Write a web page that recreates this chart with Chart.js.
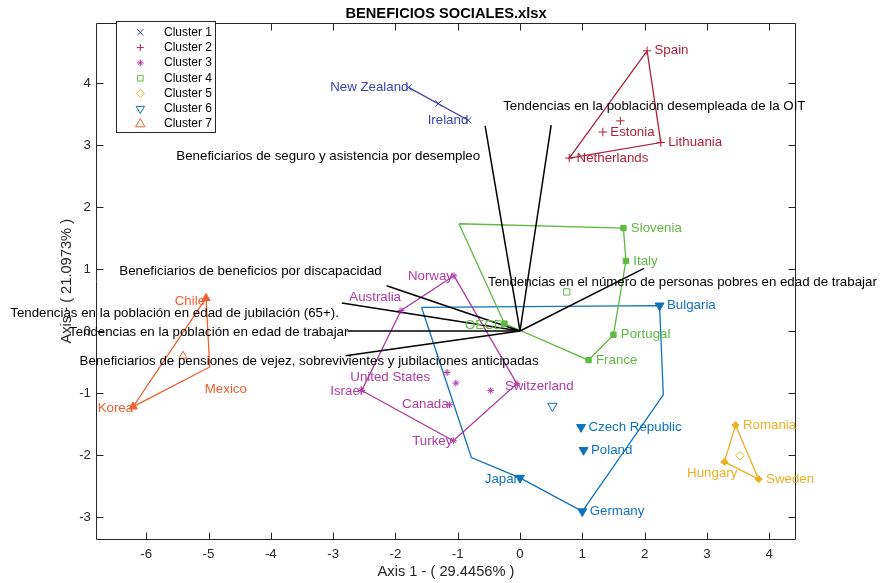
<!DOCTYPE html>
<html>
<head>
<meta charset="utf-8">
<script src="https://cdn.jsdelivr.net/npm/chart.js@4.4.1/dist/chart.umd.min.js"></script>
<style>
  html, body { margin: 0; padding: 0; background: #ffffff; }
  canvas { display: block; }
</style>
</head>
<body>
<canvas id="biplot" width="882" height="583"></canvas>
<script>
// ---------------- data ----------------
const chartTitle = 'BENEFICIOS SOCIALES.xlsx';
const xAxisTitle = 'Axis 1 - ( 29.4456% )';
const yAxisTitle = 'Axis - ( 21.0973% )';

const xTicks = [-6, -5, -4, -3, -2, -1, 0, 1, 2, 3, 4];
const yTicks = [-3, -2, -1, 0, 1, 2, 3, 4];

const clusterNames = ['Cluster 1', 'Cluster 2', 'Cluster 3', 'Cluster 4', 'Cluster 5', 'Cluster 6', 'Cluster 7'];

// cluster members: names ('' = unnamed), coordinates, hull vertex order, cluster mean
const c1Names = ['New Zealand', 'Ireland'];
const c1X = [-1.79, -0.83];
const c1Y = [3.93, 3.40];
const c1Hull = [0, 1];
const c1Mean = [-1.31, 3.67];

const c2Names = ['Spain', 'Lithuania', 'Netherlands', 'Estonia'];
const c2X = [2.04, 2.26, 0.79, 1.33];
const c2Y = [4.52, 3.04, 2.79, 3.21];
const c2Hull = [0, 1, 2];
const c2Mean = [1.61, 3.39];

const c3Names = ['Norway', 'Australia', 'Israel', 'Turkey', 'Switzerland', 'Canada', 'United States', ''];
const c3X = [-1.06, -1.91, -2.54, -1.07, -0.05, -1.13, -1.17, -0.47];
const c3Y = [0.89, 0.33, -0.96, -1.77, -0.85, -1.19, -0.67, -0.96];
const c3Hull = [0, 4, 3, 2, 1];
const c3Mean = [-1.03, -0.84];

const c4Names = ['', 'Slovenia', 'Italy', 'Portugal', 'France', 'OECD'];
const c4X = [-0.98, 1.66, 1.70, 1.50, 1.10, -0.25];
const c4Y = [1.73, 1.66, 1.13, -0.06, -0.47, 0.12];
const c4Hull = [0, 1, 2, 3, 4, 5];
const c4Mean = [0.75, 0.63];

const c5Names = ['Romania', 'Hungary', 'Sweden'];
const c5X = [3.46, 3.28, 3.83];
const c5Y = [-1.52, -2.11, -2.39];
const c5Hull = [0, 1, 2];
const c5Mean = [3.53, -2.01];

const c6Names = ['', 'Bulgaria', '', 'Germany', 'Japan', '', 'Czech Republic', 'Poland'];
const c6X = [-1.58, 2.24, 2.30, 1.00, 0.00, -0.78, 0.98, 1.02];
const c6Y = [0.38, 0.41, -1.03, -2.91, -2.37, -2.04, -1.55, -1.92];
const c6Hull = [0, 1, 2, 3, 4, 5];
const c6Mean = [0.52, -1.21];

const c7Names = ['Chile', 'Mexico', 'Korea'];
const c7X = [-5.04, -4.98, -6.21];
const c7Y = [0.53, -0.58, -1.22];
const c7Hull = [0, 1, 2];
const c7Mean = [-5.41, -0.40];

// variable loadings (arrows from the origin)
const variableNames = [
  'Tendencias en la población desempleada de la OIT',
  'Beneficiarios de seguro y asistencia por desempleo',
  'Beneficiarios de beneficios por discapacidad',
  'Tendencias en la población en edad de jubilación (65+).',
  'Tendencias en la población en edad de trabajar',
  'Beneficiarios de pensiones de vejez, sobrevivientes y jubilaciones anticipadas',
  'Tendencias en el número de personas pobres en edad de trabajar'
];
const loadingX = [0.50, -0.56, -2.14, -2.86, -2.77, -2.80, 1.99];
const loadingY = [3.32, 3.31, 0.73, 0.45, 0.00, -0.40, 1.01];

// ---------------- style ----------------
const FONT = '"Liberation Sans", Arial, Helvetica, sans-serif';
const axisColor = '#262626';
const clusterColors = ['#4141B0', '#B0203C', '#B03AA6', '#5DBB3F', '#EDB120', '#0F72BD', '#F0612F'];
// marker: Chart.js point style, rotation, member radius, mean radius, legend radius
const clusterMarkers = [
  { style: 'crossRot', rot: 0,   r: 4.5, mr: 4.5, lr: 4.3 },
  { style: 'cross',    rot: 0,   r: 4.2, mr: 4.2, lr: 3.5 },
  { style: 'star',     rot: 0,   r: 3.4, mr: 3.4, lr: 3.4 },
  { style: 'rect',     rot: 0,   r: 3.8, mr: 4.4, lr: 4.0 },
  { style: 'rectRot',  rot: 0,   r: 3.6, mr: 4.2, lr: 4.0 },
  { style: 'triangle', rot: 180, r: 5.2, mr: 5.4, lr: 4.8 },
  { style: 'triangle', rot: 0,   r: 4.7, mr: 4.6, lr: 5.4 }
];
const filledMarkers = new Set(['rect', 'rectRot', 'triangle']);
// hull corners drawn without a marker: cluster index -> member indices
const markerless = { 3: [0], 5: [0, 2, 5], 6: [1] };
// member labels: [textAlign, dx, dy] in pixels; unlisted names sit to the right
const memberLabelPlacement = {
  'New Zealand': ['right', 0, 0], 'Ireland': ['right', 0, 0],
  'Norway': ['right', -1, 1], 'Canada': ['right', -1, 0], 'Turkey': ['right', -1, 1],
  'Israel': ['right', 1, 1], 'OECD': ['right', -1, 2], 'Japan': ['right', 1, 1],
  'Korea': ['right', 0, 2], 'Chile': ['right', -1, 3],
  'Australia': ['right', 0, -13], 'United States': ['right', -17, 5],
  'Hungary': ['right', 13, 12], 'Mexico': ['left', -5, 22], 'Switzerland': ['left', -12, 3]
};
const variableLabelPlacement = [
  ['left', -48, -19], ['right', -5, 31], ['right', -5, -14], ['right', -3, 10],
  ['right', 1, 1], ['left', -266, 6], ['left', -156, 14]
];
const tickLen = 7;

// ---------------- build ----------------
const clusters = [
  { names: c1Names, x: c1X, y: c1Y, hull: c1Hull, mean: c1Mean },
  { names: c2Names, x: c2X, y: c2Y, hull: c2Hull, mean: c2Mean },
  { names: c3Names, x: c3X, y: c3Y, hull: c3Hull, mean: c3Mean },
  { names: c4Names, x: c4X, y: c4Y, hull: c4Hull, mean: c4Mean },
  { names: c5Names, x: c5X, y: c5Y, hull: c5Hull, mean: c5Mean },
  { names: c6Names, x: c6X, y: c6Y, hull: c6Hull, mean: c6Mean },
  { names: c7Names, x: c7X, y: c7Y, hull: c7Hull, mean: c7Mean }
];

const datasets = [];
clusters.forEach((c, k) => {
  const color = clusterColors[k];
  const m = clusterMarkers[k];
  const hullPts = c.hull.concat([c.hull[0]]).map(i => ({ x: c.x[i], y: c.y[i] }));
  datasets.push({
    label: clusterNames[k] + ' hull', data: hullPts, showLine: true, tension: 0,
    borderColor: color, borderWidth: 1.3, pointRadius: 0, fill: false, order: 3
  });
  const hidden = new Set(markerless[k] || []);
  datasets.push({
    label: clusterNames[k] + ' members',
    data: c.x.map((v, i) => ({ x: v, y: c.y[i] })),
    showLine: false, pointStyle: m.style, rotation: m.rot,
    pointRadius: ctx => hidden.has(ctx.dataIndex) ? 0 : m.r,
    borderColor: color, backgroundColor: filledMarkers.has(m.style) ? color : 'rgba(0,0,0,0)',
    borderWidth: 1, order: 1
  });
  datasets.push({
    label: clusterNames[k], data: [{ x: c.mean[0], y: c.mean[1] }],
    showLine: false, pointStyle: m.style, rotation: m.rot, pointRadius: m.mr,
    borderColor: color, backgroundColor: 'rgba(0,0,0,0)', borderWidth: 1, order: 1
  });
});
variableNames.forEach((name, i) => {
  datasets.push({
    label: name, data: [{ x: 0, y: 0 }, { x: loadingX[i], y: loadingY[i] }],
    showLine: true, tension: 0, borderColor: '#000000', borderWidth: 1.5,
    pointRadius: 0, fill: false, order: 2
  });
});

// frame with inward ticks, text labels and the boxed legend
const overlayPlugin = {
  id: 'biplotOverlay',
  afterDatasetsDraw(chart) {
    const { ctx, chartArea: a, scales } = chart;
    const xs = scales.x, ys = scales.y;
    const L = Math.floor(a.left) + 0.5, R = Math.floor(a.right) - 0.5;
    const T = Math.floor(a.top) + 0.5, B = Math.floor(a.bottom) + 0.5;
    ctx.save();
    ctx.strokeStyle = axisColor;
    ctx.lineWidth = 1;
    ctx.beginPath();
    ctx.rect(L, T, R - L, B - T);
    xTicks.forEach(v => {
      const p = Math.round(xs.getPixelForValue(v)) + 0.5;
      ctx.moveTo(p, B); ctx.lineTo(p, B - tickLen);
      ctx.moveTo(p, T); ctx.lineTo(p, T + tickLen);
    });
    yTicks.forEach(v => {
      const p = Math.round(ys.getPixelForValue(v)) + 0.5;
      ctx.moveTo(L, p); ctx.lineTo(L + tickLen, p);
      ctx.moveTo(R, p); ctx.lineTo(R - tickLen, p);
    });
    ctx.stroke();

    // member names
    ctx.font = '13.3px ' + FONT;
    ctx.textBaseline = 'middle';
    clusters.forEach((c, k) => {
      ctx.fillStyle = clusterColors[k];
      c.names.forEach((name, i) => {
        if (!name) return;
        const px = xs.getPixelForValue(c.x[i]);
        const py = ys.getPixelForValue(c.y[i]);
        const place = memberLabelPlacement[name];
        if (place) {
          ctx.textAlign = place[0];
          ctx.fillText(name, px + place[1], py + place[2]);
        } else {
          ctx.textAlign = 'left';
          ctx.fillText('  ' + name, px, py);
        }
      });
    });

    // variable names
    ctx.fillStyle = '#000000';
    variableNames.forEach((name, i) => {
      const px = xs.getPixelForValue(loadingX[i]);
      const py = ys.getPixelForValue(loadingY[i]);
      const place = variableLabelPlacement[i];
      ctx.textAlign = place[0];
      ctx.fillText(name, px + place[1], py + place[2]);
    });

    // legend
    const lx = 116.5, ly = 21.5, lw = 99, lh = 111;
    ctx.fillStyle = '#ffffff';
    ctx.fillRect(lx, ly, lw, lh);
    ctx.strokeStyle = axisColor;
    ctx.lineWidth = 1;
    ctx.strokeRect(lx, ly, lw, lh);
    ctx.font = '12px ' + FONT;
    ctx.textAlign = 'left';
    clusterNames.forEach((name, k) => {
      const cy = 32.3 + k * 15.3;
      const m = clusterMarkers[k];
      ctx.strokeStyle = clusterColors[k];
      ctx.fillStyle = 'rgba(0,0,0,0)';
      ctx.lineWidth = 1;
      if (Chart.helpers && Chart.helpers.drawPoint) {
        Chart.helpers.drawPoint(ctx, { pointStyle: m.style, rotation: m.rot, radius: m.lr, borderWidth: 1 }, 140.3, cy);
      }
      ctx.fillStyle = '#000000';
      ctx.fillText(name, 164, cy);
    });
    ctx.restore();
  }
};

Chart.defaults.font.family = FONT;

new Chart(document.getElementById('biplot'), {
  type: 'scatter',
  data: { datasets },
  options: {
    responsive: false,
    devicePixelRatio: 1,
    animation: false,
    events: [],
    layout: { padding: { left: 0, right: 86, top: 0, bottom: 0 } },
    plugins: {
      legend: { display: false },
      tooltip: { enabled: false },
      title: {
        display: true, text: chartTitle, color: '#000000', fullSize: false,
        font: { family: FONT, size: 14.67, weight: 'bold' },
        padding: { top: 5, bottom: 0.4 }
      }
    },
    scales: {
      x: {
        type: 'linear', position: 'bottom', min: -6.806, max: 4.43,
        grid: { display: false, drawTicks: false }, border: { display: false },
        afterBuildTicks: s => { s.ticks = xTicks.map(v => ({ value: v })); },
        afterFit: s => { s.height = 43.5; },
        ticks: { color: axisColor, font: { size: 13.3 }, padding: 6.5, maxRotation: 0, autoSkip: false, callback: v => String(v) },
        title: { display: true, text: xAxisTitle, color: axisColor, font: { size: 14.67 }, padding: { top: 0, bottom: 2.2 } }
      },
      y: {
        type: 'linear', position: 'left', min: -3.363, max: 4.968,
        grid: { display: false, drawTicks: false }, border: { display: false },
        afterBuildTicks: s => { s.ticks = yTicks.map(v => ({ value: v })); },
        afterFit: s => { s.width = 96; },
        ticks: { color: axisColor, font: { size: 13.3 }, padding: 5, autoSkip: false, callback: v => String(v) },
        title: { display: true, text: yAxisTitle, color: axisColor, font: { size: 14.67 }, padding: { top: 58.2, bottom: 0 } }
      }
    }
  },
  plugins: [overlayPlugin]
});
</script>
</body>
</html>
